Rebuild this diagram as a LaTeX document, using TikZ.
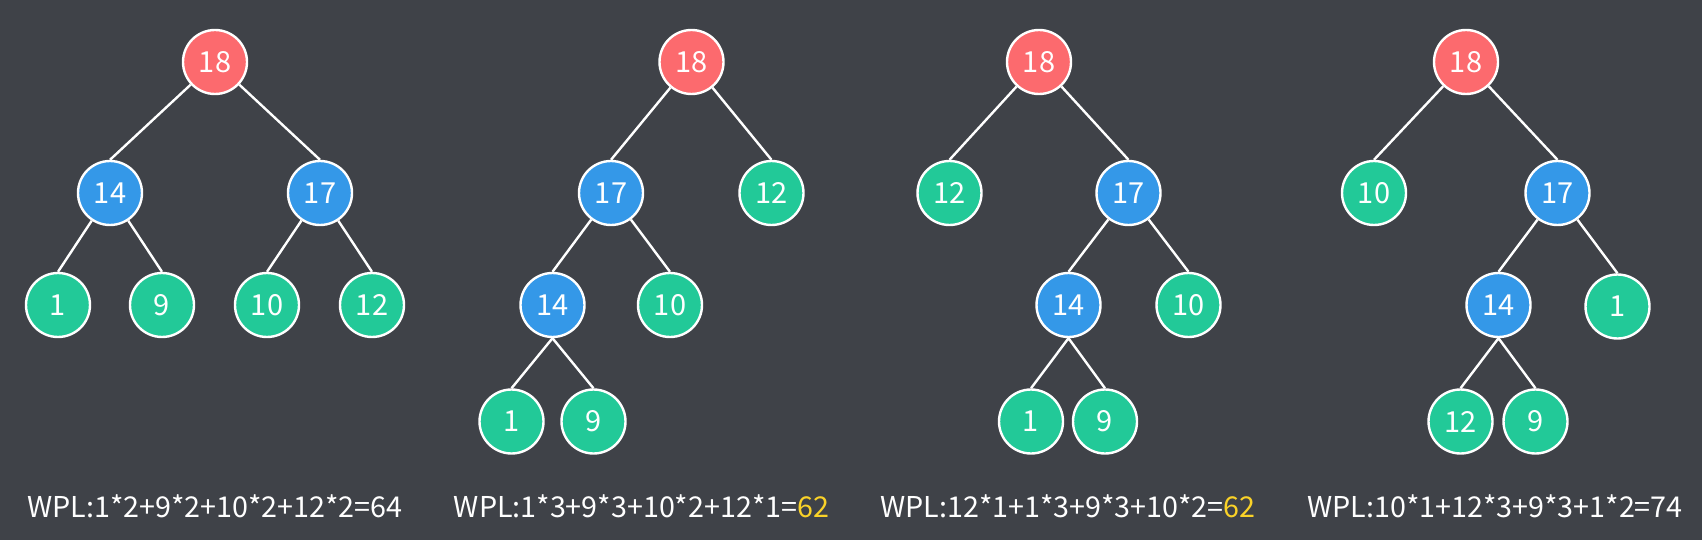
\documentclass[tikz,border=0pt]{standalone}
\usepackage{fontspec}
\setmainfont{Noto Sans CJK SC}
\definecolor{bgc}{RGB}{63,66,72}
\definecolor{redc}{RGB}{252,106,110}
\definecolor{bluec}{RGB}{52,152,232}
\definecolor{greenc}{RGB}{34,201,152}
\definecolor{yelc}{RGB}{250,210,40}
\begin{document}
\begin{tikzpicture}[x=1pt,y=-1pt,
  nd/.style={circle,draw=white,line width=2.4pt,minimum size=64pt,inner sep=0pt,text=white,font=\fontsize{29}{32}\selectfont},
  rootn/.style={nd,fill=redc},
  inn/.style={nd,fill=bluec},
  leaf/.style={nd,fill=greenc},
  edge/.style={draw=white,line width=2.4pt},
  wpl/.style={text=white,font=\fontsize{28.7}{33}\selectfont,inner sep=0pt}]
\fill[bgc] (0,0) rectangle (1702,540);
\useasboundingbox (0,0) rectangle (1702,540);
% Tree 1
\node[rootn] (a0) at (215,62) {18};
\node[inn] (a1) at (110,193) {14};
\node[inn] (a2) at (320,193) {17};
\node[leaf] (a3) at (58,305) {1};
\node[leaf] (a4) at (162,305) {9};
\node[leaf] (a5) at (267,305) {10};
\node[leaf] (a6) at (372,305) {12};
\draw[edge] (a0)--(a1.north) (a0)--(a2.north) (a1)--(a3.north) (a1)--(a4.north) (a2)--(a5.north) (a2)--(a6.north);
\node[wpl] (ta) at (215,506) {WPL:1*2+9*2+10*2+12*2=64};
% Tree 2
\node[rootn] (b0) at (691.5,62) {18};
\node[inn] (b1) at (611,193) {17};
\node[leaf] (b2) at (771.5,193) {12};
\node[inn] (b3) at (552.5,305) {14};
\node[leaf] (b4) at (670,305) {10};
\node[leaf] (b5) at (511.5,421.5) {1};
\node[leaf] (b6) at (593.5,421.5) {9};
\draw[edge] (b0)--(b1.north) (b0)--(b2.north) (b1)--(b3.north) (b1)--(b4.north) (b3.south)--(b5.north) (b3.south)--(b6.north);
\node[wpl] (tb) at (641.5,506) {WPL:1*3+9*3+10*2+12*1=\textcolor{yelc}{62}};
% Tree 3
\node[rootn] (c0) at (1039,62) {18};
\node[leaf] (c1) at (949.5,193) {12};
\node[inn] (c2) at (1128.5,193) {17};
\node[inn] (c3) at (1068.5,305) {14};
\node[leaf] (c4) at (1188.5,305) {10};
\node[leaf] (c5) at (1031,421.5) {1};
\node[leaf] (c6) at (1105,421.5) {9};
\draw[edge] (c0)--(c1.north) (c0)--(c2.north) (c2)--(c3.north) (c2)--(c4.north) (c3.south)--(c5.north) (c3.south)--(c6.north);
\node[wpl] (tc) at (1068,506) {WPL:12*1+1*3+9*3+10*2=\textcolor{yelc}{62}};
% Tree 4
\node[rootn] (d0) at (1466,62) {18};
\node[leaf] (d1) at (1374,193) {10};
\node[inn] (d2) at (1557.5,193) {17};
\node[inn] (d3) at (1498.5,305) {14};
\node[leaf] (d4) at (1617.5,306.5) {1};
\node[leaf] (d5) at (1460.5,421.5) {12};
\node[leaf] (d6) at (1535.5,421.5) {9};
\draw[edge] (d0)--(d1.north) (d0)--(d2.north) (d2)--(d3.north) (d2)--(d4.north) (d3.south)--(d5.north) (d3.south)--(d6.north);
\node[wpl] (td) at (1495,506) {WPL:10*1+12*3+9*3+1*2=74};
\end{tikzpicture}
\end{document}
